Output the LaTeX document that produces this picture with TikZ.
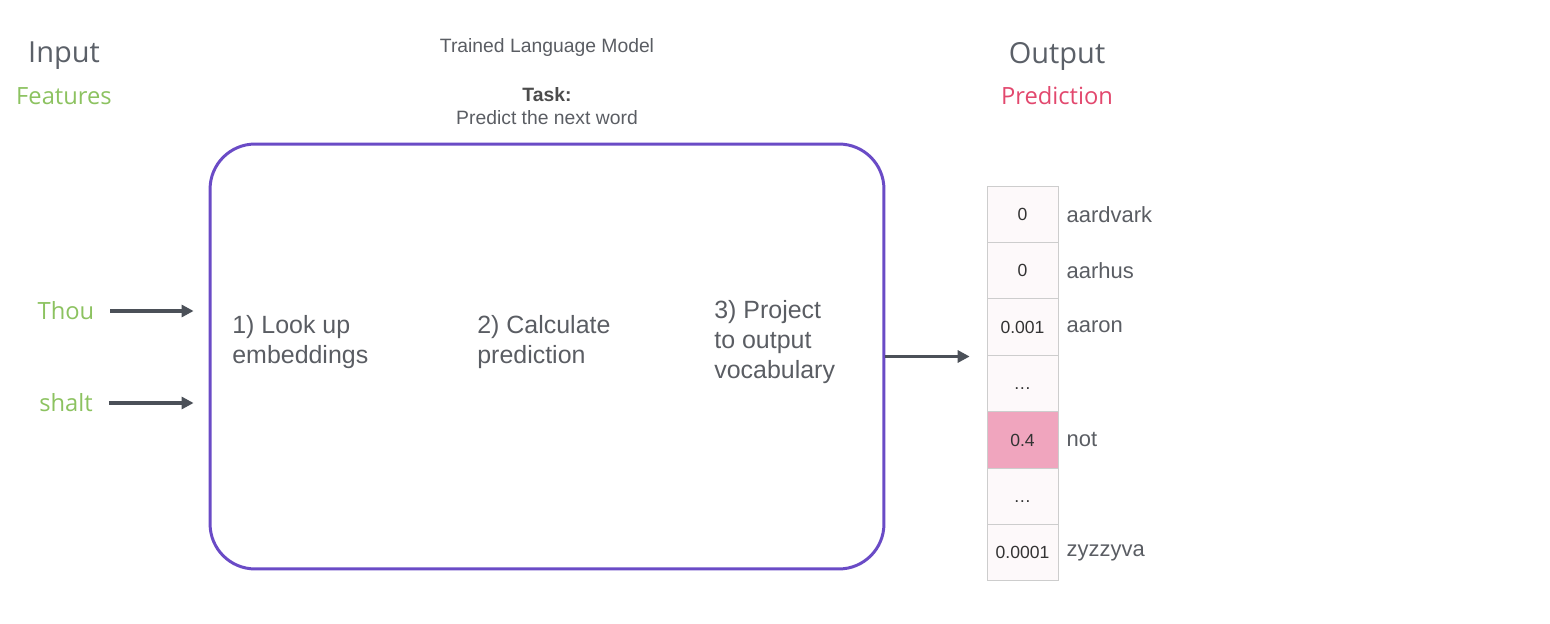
\documentclass[tikz,border=0pt]{standalone}
\usepackage{fontspec}
\setmainfont{Liberation Sans}
\newfontfamily\headfont{Open Sans}
\usetikzlibrary{arrows.meta}
\usetikzlibrary{positioning}

\definecolor{headgrey}{HTML}{5B6068}
\definecolor{txtgrey}{HTML}{5A5D63}
\definecolor{featgreen}{HTML}{8CC260}
\definecolor{predpink}{HTML}{E2486E}
\definecolor{lmpurple}{HTML}{6A4BC6}
\definecolor{arrgrey}{HTML}{4B5058}
\definecolor{cellline}{HTML}{CDCDCD}
\definecolor{cellbg}{HTML}{FDF9FA}
\definecolor{hlpink}{HTML}{F0A5BE}

\begin{document}
\begin{tikzpicture}[
    x=0.02cm, y=-0.02cm,
    heading/.style={font=\headfont\fontsize{16.5}{20}\selectfont, text=headgrey},
    sub/.style={font=\headfont\fontsize{13.5}{16}\selectfont},
    stage/.style={anchor=west, align=left, inner sep=0pt, text=txtgrey,
        font=\fontsize{14.2}{17}\selectfont},
    cell/.style={draw=cellline, minimum width=1.42cm, minimum height=1.128cm,
        inner sep=0pt, text height=0.72em, text depth=0pt,
        text=black!80, font=\fontsize{10}{12}\selectfont},
    word/.style={inner sep=0pt, text=txtgrey, font=\fontsize{12.5}{15}\selectfont},
    arr/.style={draw=arrgrey, line width=2pt, -{Triangle[length=2.4mm, width=2.4mm]}},
    >=stealth
]
\useasboundingbox (0,0) rectangle (1550,624);

% --- Headings ---
\node[heading] (inp) at (64,56) {Input};
\node[sub, text=featgreen] (feat) at (64,96) {Features};
\node[heading] (outp) at (1057,56) {Output};
\node[sub, text=predpink] (pred) at (1057,96) {Prediction};

\node[text=txtgrey, font=\fontsize{11}{13}\selectfont] (title) at (547,48) {Trained Language Model};
\node[text=black!70, font=\bfseries\fontsize{11}{13}\selectfont] (task) at (547,95) {Task:};
\node[text=txtgrey, font=\fontsize{11}{13}\selectfont] (taskdesc) at (547,118) {Predict the next word};

% --- Language model box ---
\node[draw=lmpurple, line width=1.7pt, rounded corners=0.9cm,
      minimum width=13.48cm, minimum height=8.5cm] (lm) at (547,356.5) {};

\node[stage] (s1) at (232,342) {1) Look up\\embeddings};
\node[stage] (s2) at (477,342) {2) Calculate\\prediction};
\node[stage] (s3) at (714,342) {3) Project\\to output\\vocabulary};

% --- Input words ---
\node[sub, text=featgreen] (thou) at (66,311) {Thou};
\node[sub, text=featgreen] (shalt) at (66,403) {shalt};

\draw[arr, shorten <=0.2cm, shorten >=0.3cm] (thou) -- (lm.west |- thou);
\draw[arr, shorten <=0.2cm, shorten >=0.3cm] (shalt) -- (lm.west |- shalt);

% --- Output vocabulary ---
\foreach \v/\c [count=\i] in {0/cellbg, 0/cellbg, 0.001/cellbg, …/cellbg,
                               0.4/hlpink, …/cellbg, 0.0001/cellbg}
    \node[cell, fill=\c] (c\i) at (1022.5,{214.2 + (\i-1)*56.4}) {\v};

\foreach \i/\w in {1/aardvark, 2/aarhus, 3/aaron, 5/not, 7/zyzzyva}
    \node[word, anchor=west, right=0.16cm of c\i] (w\i) {\w};

\draw[arr, shorten >=0.34cm] (lm.east) -- (lm.east -| c1.west);

\end{tikzpicture}
\end{document}
